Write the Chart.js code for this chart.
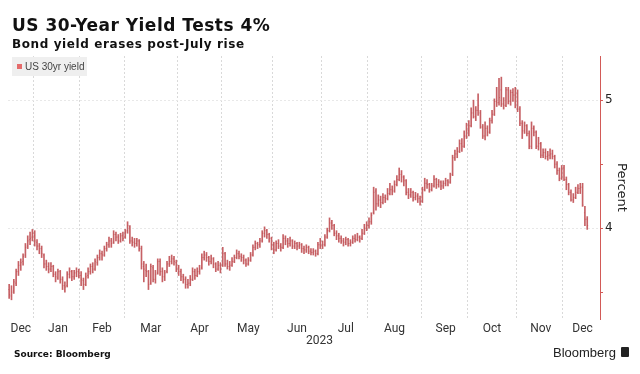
<!DOCTYPE html>
<html>
<head>
<meta charset="utf-8">
<script src="https://cdn.jsdelivr.net/npm/chart.js@4"></script>
<style>
  html, body { margin: 0; padding: 0; background: #fff; }
  #wrap { position: relative; width: 640px; height: 374px; overflow: hidden; }
  #chart { position: absolute; left: 0; top: 0; }
  .txt { position: absolute; white-space: nowrap; color: #111; }
  #title { left: 12px; top: 17px; font: bold 17px "DejaVu Sans"; letter-spacing: 0.5px; line-height: 17px; }
  #subtitle { left: 12px; top: 38px; font: bold 12px "DejaVu Sans"; letter-spacing: 0.6px; line-height: 12px; }
  #legend { left: 12px; top: 57px; width: 75px; height: 19px; background: #efefef; }
  #legend .sq { position: absolute; left: 5px; top: 7px; width: 5px; height: 5px; background: #e56b6b; }
  #legend .lb { position: absolute; left: 13px; top: 4px; font: 10px "Liberation Sans"; color: #444; line-height: 11px; }
  #year { left: 306px; top: 334px; font: 12px Roboto; color: #333; line-height: 12px; }
  #source { left: 14px; top: 349px; font: bold 9px "DejaVu Sans"; line-height: 10px; }
  #brand { left: 553px; top: 346px; font: 13px "Liberation Sans"; line-height: 13px; color: #222; }
  #logo { position: absolute; left: 621px; top: 347px; width: 8px; height: 10px; background: #222; border-radius: 1px; }
</style>
</head>
<body>
<div id="wrap">
  <canvas id="chart" width="640" height="374"></canvas>
  <div class="txt" id="title">US 30-Year Yield Tests 4%</div>
  <div class="txt" id="subtitle">Bond yield erases post-July rise</div>
  <div class="txt" id="legend"><span class="sq"></span><span class="lb">US 30yr yield</span></div>
  <div class="txt" id="year">2023</div>
  <div class="txt" id="source">Source: Bloomberg</div>
  <div class="txt" id="brand">Bloomberg</div>
  <div id="logo"></div>
</div>
<script>
// month tick labels and trading days per month (last Dec has a few empty days at the end)
const months = ['Dec', 'Jan', 'Feb', 'Mar', 'Apr', 'May', 'Jun', 'Jul', 'Aug', 'Sep', 'Oct', 'Nov', 'Dec'];
const monthDays = [11, 20, 19, 23, 19, 22, 21, 20, 23, 20, 21, 20, 16];

// daily bars: [open, high, low, close]
const dec22 = [
  [3.52,3.56,3.45,3.48],[3.47,3.55,3.44,3.50],[3.51,3.60,3.49,3.58],[3.57,3.68,3.55,3.66],
  [3.66,3.74,3.63,3.71],[3.71,3.76,3.67,3.73],[3.74,3.80,3.71,3.78],[3.79,3.88,3.77,3.85],
  [3.86,3.94,3.84,3.90],[3.91,3.97,3.87,3.92],[3.93,3.99,3.90,3.96]
];
const jan23 = [
  [3.94,3.98,3.86,3.90],[3.89,3.91,3.83,3.86],[3.86,3.88,3.80,3.84],[3.84,3.86,3.77,3.80],
  [3.79,3.80,3.69,3.72],[3.72,3.75,3.67,3.70],[3.70,3.73,3.65,3.68],[3.68,3.73,3.66,3.70],
  [3.70,3.71,3.62,3.64],[3.64,3.66,3.58,3.62],[3.61,3.68,3.60,3.66],[3.66,3.67,3.57,3.60],
  [3.60,3.62,3.52,3.55],[3.55,3.58,3.50,3.54],[3.55,3.66,3.54,3.64],[3.64,3.69,3.61,3.66],
  [3.66,3.67,3.59,3.62],[3.62,3.67,3.60,3.65],[3.65,3.69,3.62,3.66],[3.66,3.68,3.61,3.63]
];
const feb23 = [
  [3.63,3.66,3.55,3.60],[3.59,3.61,3.52,3.56],[3.56,3.65,3.55,3.62],[3.63,3.69,3.61,3.66],
  [3.66,3.72,3.64,3.70],[3.70,3.73,3.65,3.68],[3.68,3.76,3.67,3.74],[3.73,3.79,3.71,3.77],
  [3.77,3.83,3.75,3.80],[3.80,3.82,3.75,3.79],[3.79,3.86,3.78,3.84],[3.84,3.89,3.82,3.87],
  [3.87,3.93,3.85,3.90],[3.90,3.92,3.85,3.88],[3.89,3.98,3.88,3.95],[3.95,3.97,3.90,3.93],
  [3.93,3.95,3.88,3.90],[3.90,3.96,3.89,3.94],[3.94,3.97,3.90,3.92]
];
const mar23 = [
  [3.93,3.99,3.92,3.97],[3.98,4.05,3.96,4.02],[4.01,4.02,3.88,3.90],[3.90,3.93,3.86,3.89],
  [3.89,3.92,3.85,3.88],[3.88,3.92,3.86,3.90],[3.90,3.91,3.82,3.84],[3.84,3.86,3.68,3.72],
  [3.70,3.74,3.58,3.68],[3.67,3.72,3.62,3.66],[3.66,3.67,3.52,3.56],[3.57,3.72,3.56,3.70],
  [3.69,3.71,3.58,3.60],[3.60,3.67,3.57,3.64],[3.65,3.76,3.64,3.74],[3.74,3.76,3.63,3.66],
  [3.66,3.69,3.58,3.62],[3.62,3.67,3.59,3.65],[3.66,3.74,3.65,3.72],[3.72,3.78,3.70,3.74],
  [3.74,3.79,3.72,3.76],[3.76,3.78,3.71,3.74],[3.73,3.75,3.66,3.68]
];
const apr23 = [
  [3.69,3.71,3.63,3.66],[3.66,3.68,3.59,3.62],[3.62,3.64,3.57,3.60],[3.60,3.62,3.53,3.56],
  [3.56,3.60,3.53,3.57],[3.57,3.63,3.55,3.60],[3.60,3.69,3.59,3.66],[3.66,3.68,3.60,3.63],
  [3.63,3.69,3.62,3.66],[3.66,3.71,3.64,3.68],[3.69,3.80,3.68,3.77],[3.77,3.82,3.75,3.79],
  [3.79,3.81,3.74,3.77],[3.77,3.78,3.71,3.74],[3.74,3.79,3.72,3.76],[3.76,3.77,3.69,3.72],
  [3.72,3.73,3.66,3.68],[3.68,3.74,3.67,3.71],[3.71,3.73,3.65,3.68]
];
const may23 = [
  [3.71,3.85,3.70,3.80],[3.80,3.81,3.70,3.72],[3.72,3.75,3.68,3.70],[3.70,3.74,3.67,3.71],
  [3.71,3.77,3.70,3.74],[3.74,3.79,3.73,3.77],[3.77,3.83,3.76,3.80],[3.80,3.82,3.76,3.78],
  [3.78,3.80,3.74,3.77],[3.77,3.79,3.72,3.75],[3.75,3.76,3.70,3.72],[3.72,3.77,3.71,3.75],
  [3.75,3.81,3.74,3.79],[3.79,3.87,3.78,3.85],[3.85,3.90,3.83,3.88],[3.88,3.89,3.84,3.87],
  [3.87,3.92,3.85,3.90],[3.90,3.98,3.89,3.96],[3.96,4.01,3.93,3.98],[3.98,3.99,3.92,3.95],
  [3.95,3.96,3.89,3.92],[3.92,3.93,3.83,3.87]
];
const jun23 = [
  [3.87,3.89,3.80,3.83],[3.83,3.90,3.82,3.88],[3.88,3.91,3.84,3.86],[3.86,3.88,3.82,3.85],
  [3.85,3.95,3.84,3.92],[3.92,3.94,3.87,3.90],[3.90,3.92,3.85,3.88],[3.88,3.93,3.86,3.90],
  [3.90,3.91,3.84,3.86],[3.86,3.90,3.84,3.88],[3.88,3.89,3.83,3.86],[3.86,3.89,3.84,3.87],
  [3.87,3.88,3.81,3.84],[3.84,3.86,3.80,3.83],[3.83,3.87,3.81,3.85],[3.85,3.86,3.80,3.82],
  [3.82,3.84,3.79,3.81],[3.81,3.84,3.79,3.82],[3.82,3.83,3.78,3.80],[3.80,3.89,3.79,3.87],
  [3.87,3.92,3.84,3.86]
];
const jul23 = [
  [3.86,3.90,3.84,3.87],[3.87,3.95,3.86,3.93],[3.93,4.00,3.92,3.98],[3.98,4.08,3.97,4.04],
  [4.04,4.06,3.99,4.02],[4.02,4.03,3.94,3.96],[3.96,3.98,3.91,3.94],[3.94,3.96,3.89,3.92],
  [3.92,3.94,3.88,3.90],[3.90,3.92,3.86,3.89],[3.89,3.93,3.87,3.91],[3.91,3.92,3.86,3.88],
  [3.88,3.91,3.86,3.89],[3.89,3.94,3.88,3.92],[3.92,3.95,3.89,3.91],[3.91,3.96,3.90,3.93],
  [3.93,3.94,3.89,3.92],[3.92,3.99,3.91,3.96],[3.96,4.03,3.95,4.00],[4.00,4.05,3.98,4.02]
];
const aug23 = [
  [4.02,4.08,4.00,4.05],[4.05,4.12,4.03,4.10],[4.12,4.32,4.11,4.28],[4.29,4.31,4.14,4.19],
  [4.19,4.26,4.17,4.22],[4.22,4.25,4.16,4.20],[4.20,4.27,4.19,4.24],[4.24,4.26,4.20,4.23],
  [4.23,4.31,4.22,4.27],[4.27,4.35,4.26,4.30],[4.30,4.33,4.26,4.29],[4.29,4.37,4.28,4.34],
  [4.34,4.41,4.33,4.38],[4.38,4.47,4.37,4.42],[4.42,4.45,4.36,4.40],[4.40,4.41,4.33,4.37],
  [4.37,4.38,4.26,4.28],[4.28,4.31,4.23,4.26],[4.26,4.31,4.24,4.28],[4.28,4.29,4.21,4.24],
  [4.24,4.28,4.22,4.25],[4.25,4.27,4.20,4.23],[4.23,4.25,4.18,4.21]
];
const sep23 = [
  [4.21,4.32,4.20,4.30],[4.30,4.39,4.29,4.35],[4.35,4.38,4.31,4.34],[4.34,4.35,4.28,4.30],
  [4.30,4.35,4.29,4.33],[4.33,4.41,4.32,4.38],[4.38,4.39,4.31,4.34],[4.34,4.38,4.32,4.36],
  [4.36,4.37,4.30,4.33],[4.33,4.37,4.31,4.35],[4.35,4.39,4.33,4.37],[4.37,4.38,4.33,4.36],
  [4.36,4.43,4.35,4.40],[4.42,4.57,4.41,4.55],[4.55,4.61,4.53,4.58],[4.58,4.63,4.55,4.60],
  [4.60,4.69,4.59,4.66],[4.66,4.70,4.60,4.64],[4.64,4.76,4.63,4.72],[4.72,4.82,4.70,4.76]
];
const oct23 = [
  [4.76,4.84,4.72,4.80],[4.80,4.94,4.79,4.90],[4.90,5.00,4.86,4.87],[4.87,4.95,4.84,4.92],
  [4.92,5.05,4.88,4.96],[4.90,4.92,4.78,4.79],[4.79,4.81,4.70,4.72],[4.72,4.83,4.69,4.78],
  [4.78,4.80,4.72,4.75],[4.75,4.86,4.74,4.84],[4.84,4.92,4.82,4.89],[4.89,5.01,4.88,4.99],
  [4.99,5.10,4.95,4.98],[4.98,5.17,4.96,5.02],[5.08,5.18,4.95,4.97],[4.97,5.02,4.93,4.96],
  [4.96,5.10,4.95,5.08],[5.08,5.10,4.97,4.99],[4.99,5.08,4.96,5.06],[5.06,5.09,4.99,5.04],
  [5.04,5.10,4.94,5.09]
];
const nov23 = [
  [5.05,5.08,4.91,4.93],[4.93,4.95,4.80,4.82],[4.82,4.84,4.70,4.76],[4.76,4.83,4.74,4.80],
  [4.80,4.81,4.72,4.74],[4.74,4.76,4.62,4.64],[4.64,4.83,4.62,4.78],[4.78,4.80,4.72,4.75],
  [4.75,4.76,4.62,4.64],[4.64,4.71,4.61,4.66],[4.66,4.67,4.55,4.57],[4.57,4.62,4.55,4.59],
  [4.59,4.62,4.54,4.56],[4.56,4.60,4.53,4.57],[4.57,4.62,4.54,4.58],[4.58,4.61,4.54,4.56],
  [4.56,4.57,4.47,4.50],[4.50,4.52,4.42,4.45],[4.45,4.47,4.37,4.39],[4.39,4.49,4.38,4.47]
];
const dec23 = [
  [4.47,4.49,4.37,4.38],[4.38,4.40,4.30,4.34],[4.34,4.35,4.26,4.28],[4.28,4.30,4.21,4.22],
  [4.22,4.27,4.20,4.24],[4.24,4.32,4.23,4.28],[4.28,4.34,4.27,4.31],[4.31,4.35,4.27,4.32],
  [4.32,4.35,4.17,4.18],[4.12,4.17,4.02,4.07],[4.07,4.09,3.99,4.02]
];

const bars = [].concat(dec22, jan23, feb23, mar23, apr23, may23, jun23, jul23, aug23, sep23, oct23, nov23, dec23);

// one label per trading day, month name repeated
const labels = [];
const monthStart = [];
const monthMid = [];
months.forEach(function (m, i) {
  monthStart.push(labels.length);
  monthMid.push(labels.length + Math.floor(monthDays[i] / 2));
  for (let d = 0; d < monthDays[i]; d++) labels.push(m);
});

const ranges = labels.map(function (_, i) { return bars[i] ? [bars[i][2], bars[i][1]] : null; });
const opens = labels.map(function (_, i) { return bars[i] ? bars[i][0] : null; });
const closes = labels.map(function (_, i) { return bars[i] ? bars[i][3] : null; });

const barColor = 'rgba(184, 58, 62, 0.8)';
const tickColor = 'rgba(214, 110, 112, 0.55)';
const axisRed = '#d25a57';

const ctx = document.getElementById('chart').getContext('2d');
const myChart = new Chart(ctx, {
  type: 'bar',
  data: {
    labels: labels,
    datasets: [
      {
        label: 'US 30yr yield',
        data: ranges,
        backgroundColor: barColor,
        barThickness: 1,
        grouped: false
      },
      {
        type: 'line',
        data: opens,
        showLine: false,
        pointStyle: 'dash',
        pointRotation: 180,
        pointRadius: 1,
        pointBorderWidth: 1,
        borderColor: tickColor
      },
      {
        type: 'line',
        data: closes,
        showLine: false,
        pointStyle: 'dash',
        pointRadius: 1,
        pointBorderWidth: 1,
        borderColor: tickColor
      }
    ]
  },
  options: {
    responsive: false,
    animation: false,
    devicePixelRatio: 1,
    layout: { padding: { left: 8, top: 56, right: 0, bottom: 0 } },
    plugins: {
      legend: { display: false },
      tooltip: { enabled: false }
    },
    scales: {
      x: {
        afterFit: function (scale) { scale.height = 55; },
        border: { display: false, dash: [2, 2] },
        grid: {
          offset: true,
          drawTicks: false,
          lineWidth: 1,
          color: function (c) {
            return (c.index > 0 && monthStart.indexOf(c.index) !== -1) ? '#d9d9d9' : 'rgba(0,0,0,0)';
          }
        },
        ticks: {
          autoSkip: false,
          maxRotation: 0,
          padding: 3,
          color: '#333',
          font: { family: 'Roboto', size: 12 },
          callback: function (v, i) {
            const k = monthMid.indexOf(i);
            return k === -1 ? '' : months[k];
          }
        }
      },
      y: {
        position: 'right',
        min: 3.29,
        max: 5.345,
        afterFit: function (scale) { scale.width = 40; },
        border: { display: true, color: axisRed, width: 1, dash: [2, 2] },
        grid: {
          drawTicks: true,
          tickLength: 3,
          tickColor: axisRed,
          tickBorderDash: [],
          color: function (c) {
            return (c.tick && Number.isInteger(c.tick.value)) ? '#e8e8e8' : 'rgba(0,0,0,0)';
          }
        },
        ticks: {
          stepSize: 0.5,
          includeBounds: false,
          padding: 2,
          color: '#222',
          font: { family: 'DejaVu Sans', size: 12 },
          callback: function (v) { return Number.isInteger(v) ? String(v) : ''; }
        },
        title: {
          display: true,
          text: 'Percent',
          color: '#222',
          font: { family: 'DejaVu Sans', size: 13 },
          padding: { top: 11, bottom: 0 }
        }
      }
    }
  }
});
</script>
</body>
</html>
